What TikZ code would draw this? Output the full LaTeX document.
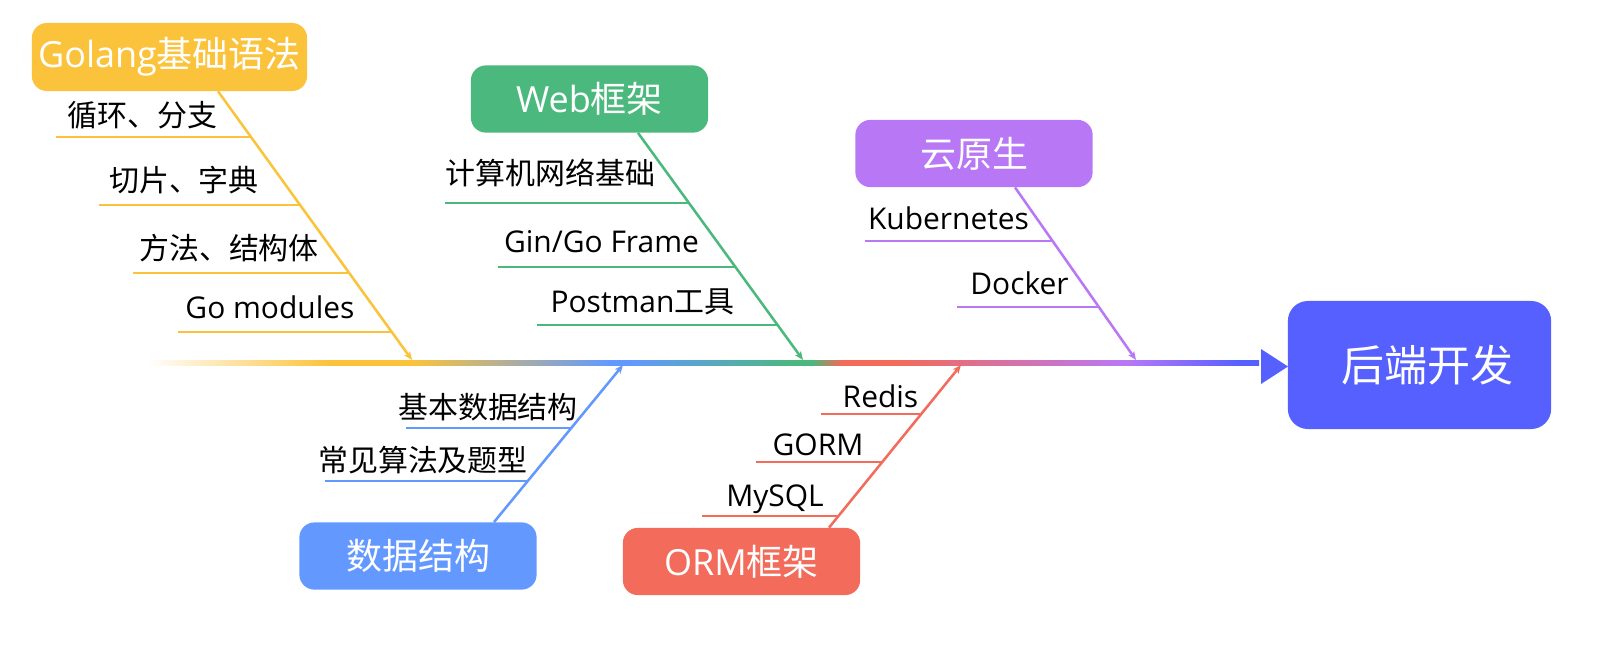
\documentclass[tikz,border=0pt]{standalone}
\usepackage{fontspec}
\setmainfont{Open Sans}
\newfontfamily\cjk{Noto Sans CJK SC}
\usetikzlibrary{calc,arrows.meta}

\definecolor{golangcol}{HTML}{FBC33B}
\definecolor{webcol}{HTML}{4BB87D}
\definecolor{cloudcol}{HTML}{B878F6}
\definecolor{datacol}{HTML}{6399FF}
\definecolor{ormcol}{HTML}{F26B5B}
\definecolor{backcol}{HTML}{5560FF}

% spine colours, x from 147 to 1259 mapped onto 25bp..75bp
\pgfdeclarehorizontalshading{spineshade}{100bp}{color(0bp)=(white); color(25bp)=(white);
  color(33.2bp)=(golangcol); color(36.9bp)=(golangcol); color(45.8bp)=(datacol);
  color(46.7bp)=(datacol); color(54.1bp)=(webcol); color(54.9bp)=(webcol);
  color(56.2bp)=(ormcol); color(58.9bp)=(ormcol); color(69bp)=(cloudcol);
  color(74.2bp)=(backcol); color(100bp)=(backcol)}

\tikzset{
  catbox/.style={rounded corners=0.375cm, text=white, minimum width=5.93cm,
    minimum height=1.68cm, inner sep=0pt, font=\fontsize{25.6}{30}\selectfont},
  bone/.style={line width=1.8pt, -{Stealth[length=6pt,width=5pt,inset=1.5pt]}},
  twig/.style={line width=2.1pt},
  lbl/.style={inner sep=0pt, font=\fontsize{21.3}{25}\selectfont},
}

\begin{document}
\begin{tikzpicture}[x=0.025cm, y=-0.025cm]
		\useasboundingbox (0,0) rectangle (1605,652);

		% Spine
		\shade[shading=spineshade] (147,360) rectangle (1259,365);
		\fill[backcol] (1261,349) -- (1288,366.5) -- (1261,384) -- cycle;
		\node[catbox, fill=backcol, minimum width=6.58cm, minimum height=3.2cm,
			rounded corners=0.5cm, font=\fontsize{30.6}{36}\selectfont]
			(backend) at (1419.5,365) {\hspace{12pt}\cjk 后端开发};

		% Golang section
		\node[catbox, fill=golangcol, minimum width=6.88cm, minimum height=1.7cm] (golang) at (169.5,57) {Golang{\cjk 基础语法}};
		\coordinate (gtip) at (412,360);
		\draw[bone, golangcol] ($(golang.south)+(48.5,0)$) -- (gtip);
		\draw[twig, golangcol] (56,137) -- (251,137);
		\draw[twig, golangcol] (99,205) -- (300,205);
		\draw[twig, golangcol] (133,273) -- (349,273);
		\draw[twig, golangcol] (178,332) -- (392,332);
		\node[lbl] (g1) at (142.5,115) {\cjk 循环、分支};
		\node[lbl] (g2) at (184,180) {\cjk 切片、字典};
		\node[lbl] (g3) at (229,248) {\cjk 方法、结构体};
		\node[lbl] (g4) at (270,307) {Go modules};

		% Web section
		\node[catbox, fill=webcol] (web) at (589.5,99) {Web{\cjk 框架}};
		\coordinate (wtip) at (803,360);
		\draw[bone, webcol] ($(web.south)+(48.5,0)$) -- (wtip);
		\draw[twig, webcol] (445,203) -- (689,203);
		\draw[twig, webcol] (498,267) -- (735,267);
		\draw[twig, webcol] (537,325) -- (778,325);
		\node[lbl] (w1) at (550.5,173) {\cjk 计算机网络基础};
		\node[lbl] (w2) at (601.5,242) {Gin/Go Frame};
		\node[lbl] (w3) at (642.5,302) {Postman{\cjk 工具}};

		% Cloud section
		\node[catbox, fill=cloudcol] (cloud) at (974,153.5) {\cjk 云原生};
		\coordinate (ctip) at (1136,360);
		\draw[bone, cloudcol] ($(cloud.south)+(41,0)$) -- (ctip);
		\draw[twig, cloudcol] (865,241) -- (1053,241);
		\draw[twig, cloudcol] (957,307) -- (1099,307);
		\node[lbl] (c1) at (948.5,218) {Kubernetes};
		\node[lbl] (c2) at (1019.5,283) {Docker};

		% Data structure section
		\node[catbox, fill=datacol] (dstruct) at (418,556) {\cjk 数据结构};
		\coordinate (dtip) at (623,365);
		\draw[bone, datacol] ($(dstruct.north)+(76,0)$) -- (dtip);
		\draw[twig, datacol] (406,428) -- (571,428);
		\draw[twig, datacol] (325,481) -- (528,481);
		\node[lbl] (d1) at (488,407) {\cjk 基本数据结构};
		\node[lbl] (d2) at (423,460) {\cjk 常见算法及题型};

		% ORM section
		\node[catbox, fill=ormcol] (orm) at (741.5,561.5) {ORM{\cjk 框架}};
		\coordinate (otip) at (961,365);
		\draw[bone, ormcol] ($(orm.north)+(87.5,0)$) -- (otip);
		\draw[twig, ormcol] (821,414) -- (921,414);
		\draw[twig, ormcol] (756,462) -- (882,462);
		\draw[twig, ormcol] (702,516) -- (839,516);
		\node[lbl] (o1) at (880.5,396) {Redis};
		\node[lbl] (o2) at (818,445) {GORM};
		\node[lbl] (o3) at (775,499) {MySQL};
	\end{tikzpicture}
\end{document}
